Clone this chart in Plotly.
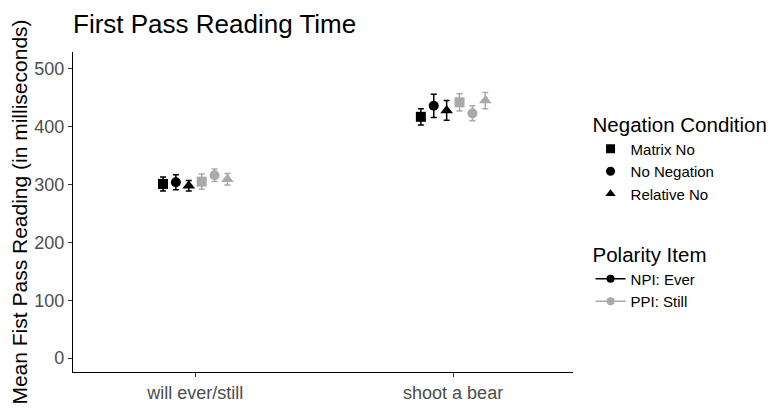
import plotly.graph_objects as go

categories = ["will ever/still", "shoot a bear"]
negation = ["Matrix No", "No Negation", "Relative No"]
polarity = ["NPI: Ever", "PPI: Still"]

# mean first pass reading time (ms) per polarity / negation, for each category
npi_matrix = [301, 417]
npi_nonneg = [304, 436]
npi_relative = [298, 428]
ppi_matrix = [305, 442]
ppi_nonneg = [316, 423]
ppi_relative = [309, 445]

# standard errors
npi_matrix_se = [12, 14]
npi_nonneg_se = [13, 20]
npi_relative_se = [9, 17]
ppi_matrix_se = [13, 15]
ppi_nonneg_se = [11, 13]
ppi_relative_se = [10, 14]

y_ticks = [0, 100, 200, 300, 400, 500]

FONT = "Liberation Sans, Arial, sans-serif"
BLACK = "#000000"
GREY = "#A9A9A9"
symbols = {"Matrix No": "square", "No Negation": "circle", "Relative No": "triangle-up"}

series = [
    ("NPI: Ever", "Matrix No", npi_matrix, npi_matrix_se, BLACK),
    ("NPI: Ever", "No Negation", npi_nonneg, npi_nonneg_se, BLACK),
    ("NPI: Ever", "Relative No", npi_relative, npi_relative_se, BLACK),
    ("PPI: Still", "Matrix No", ppi_matrix, ppi_matrix_se, GREY),
    ("PPI: Still", "No Negation", ppi_nonneg, ppi_nonneg_se, GREY),
    ("PPI: Still", "Relative No", ppi_relative, ppi_relative_se, GREY),
]

fig = go.Figure()
for i, (pol, neg, vals, se, col) in enumerate(series):
    fig.add_trace(go.Scatter(
        x=categories, y=vals, mode="markers",
        offsetgroup=str(i),
        marker=dict(symbol=symbols[neg], size=10 if neg != "Relative No" else 11, color=col),
        error_y=dict(type="data", array=se, color=col, thickness=1.5, width=3),
        showlegend=False, name=f"{pol} / {neg}",
    ))

# legend: negation condition (shape)
for neg in negation:
    fig.add_trace(go.Scatter(
        x=[None], y=[None], mode="markers", name=neg, legend="legend",
        marker=dict(symbol=symbols[neg], size=9, color=BLACK),
    ))
# legend: polarity item (colour)
for pol, col in zip(polarity, [BLACK, GREY]):
    fig.add_trace(go.Scatter(
        x=[None], y=[None], mode="lines+markers", name=pol, legend="legend2",
        marker=dict(symbol="circle", size=8, color=col),
        line=dict(color=col, width=1.5),
    ))

# the page body has an 8px margin, so the figure is sized to fit the window
fig.update_layout(
    width=766, height=401,
    margin=dict(l=65, r=201, t=44, b=37),
    paper_bgcolor="white", plot_bgcolor="white",
    font=dict(family=FONT, color="#000000"),
    scattermode="group", scattergap=0.7,
    title=dict(text="First Pass Reading Time", x=0, xref="paper", xanchor="left",
               y=1, yref="container", yanchor="top", pad=dict(t=7, l=0),
               font=dict(size=26, color="#000000", family=FONT)),
    xaxis=dict(
        type="category", range=[-0.474, 1.465], automargin=False,
        showline=True, linecolor="#000000", linewidth=1.2,
        showgrid=False, zeroline=False,
        ticks="outside", ticklen=4, tickcolor="#333333",
        tickfont=dict(size=18, color="#4D4D4D", family=FONT),
    ),
    yaxis=dict(
        range=[-24, 529], tickvals=y_ticks, automargin=False,
        showline=True, linecolor="#000000", linewidth=1.2,
        showgrid=False, zeroline=False,
        ticks="outside", ticklen=4, tickcolor="#333333",
        tickfont=dict(size=18, color="#4D4D4D", family=FONT),
        title=dict(text="Mean Fist Pass Reading (in milliseconds)", standoff=1,
                   font=dict(size=21, color="#000000", family=FONT)),
    ),
    legend=dict(
        title=dict(text="Negation Condition", font=dict(size=20.5, family=FONT)),
        xref="container", yref="container",
        x=0.7605, xanchor="left", y=0.756, yanchor="top",
        font=dict(size=15, family=FONT), itemwidth=30, tracegroupgap=2,
        bgcolor="rgba(0,0,0,0)",
    ),
    legend2=dict(
        title=dict(text="Polarity Item", font=dict(size=20.5, family=FONT)),
        xref="container", yref="container",
        x=0.7605, xanchor="left", y=0.432, yanchor="top",
        font=dict(size=15, family=FONT), itemwidth=30,
        bgcolor="rgba(0,0,0,0)",
    ),
)

fig.write_html("out.html")
